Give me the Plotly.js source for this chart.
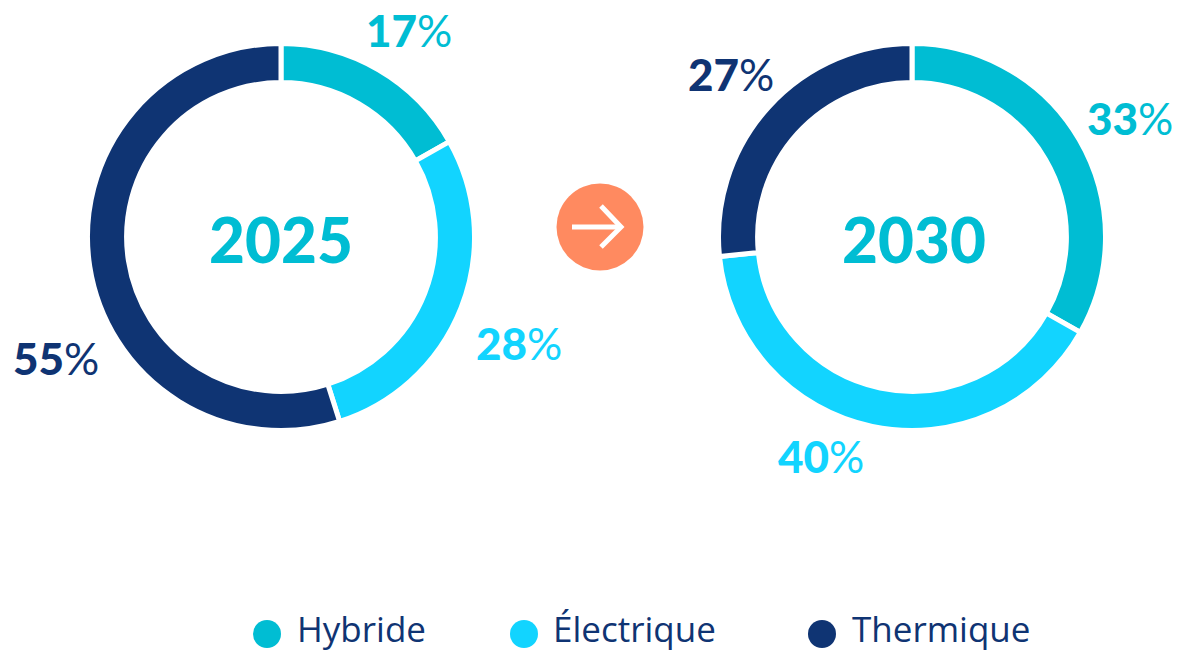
<!DOCTYPE html>
<html><head><meta charset="utf-8">
<script src="https://cdn.plot.ly/plotly-3.0.1.min.js"></script>
<style>html,body{margin:0;padding:0;background:#fff}#c{width:1178px;height:654px}</style></head>
<body><div id="c"></div>
<script>
const categories = ["Hybride", "Électrique", "Thermique"];
const values2025 = [16.8, 28.3, 54.9];
const values2030 = [33.2, 40.2, 26.6];
const colors = ["#00BDD3", "#12D4FF", "#0F3473"];
const W = 1178, H = 654, FONT = "Lato, 'Open Sans', sans-serif", LEGFONT = "'Open Sans', Lato, sans-serif";
const px = x => x / W, py = y => 1 - y / H;
const dom = (cx, cy, r) => ({x: [px(cx - r), px(cx + r)], y: [py(cy + r), py(cy - r)]});
const pie = (vals, cx, name) => ({
  type: "pie", values: vals, labels: categories, name, sort: false, direction: "clockwise", rotation: 0,
  hole: 0.798, textinfo: "none", showlegend: false, domain: dom(cx, 237, 193.5),
  marker: {colors, line: {color: "#ffffff", width: 5}}
});
const ann = (x, y, text, size, color) => ({
  xref: "paper", yref: "paper", x: px(x), y: py(y), text, showarrow: false,
  xanchor: "center", yanchor: "middle", font: {family: FONT, size, color}
});
const heavy = t => `<span style="font-weight:900">${t}</span>`;
const pct = (x, y, v, color) => ann(x, y, `${heavy(Math.round(v))}%`, 44, color);
const legendX = [267, 524, 822], legendTextX = [295, 551, 850];
const circle = (cx, cy, r, color) => ({
  type: "circle", xref: "paper", yref: "paper", x0: px(cx - r), x1: px(cx + r), y0: py(cy + r), y1: py(cy - r),
  fillcolor: color, line: {width: 0}
});
const stroke = (pts) => ({
  type: "path", xref: "paper", yref: "paper",
  path: "M" + pts.map(p => px(p[0]) + "," + py(p[1])).join(" L"),
  line: {color: "#ffffff", width: 5}, layer: "above"
});
const layout = {
  width: W, height: H, margin: {l: 0, r: 0, t: 0, b: 0}, showlegend: false,
  paper_bgcolor: "#ffffff", plot_bgcolor: "#ffffff",
  annotations: [
    ann(281, 239, heavy("2025"), 62, colors[0]),
    ann(914, 239, heavy("2030"), 62, colors[0]),
    pct(409, 30, values2025[0], colors[0]),
    pct(519, 343, values2025[1], colors[1]),
    pct(56, 358, values2025[2], colors[2]),
    pct(1130, 118, values2030[0], colors[0]),
    pct(821, 456, values2030[1], colors[1]),
    pct(731, 74, values2030[2], colors[2]),
    ...categories.map((c, i) => ({
      xref: "paper", yref: "paper", x: px(legendTextX[i]), y: py(628.5), text: c, showarrow: false,
      xanchor: "left", yanchor: "middle", font: {family: LEGFONT, size: 35, color: colors[2]}
    }))
  ],
  shapes: [
    circle(600, 227, 43.5, "#FF8A60"),
    stroke([[572, 227], [621, 227]]),
    stroke([[601, 206], [621, 227], [601, 247]]),
    ...categories.map((c, i) => circle(legendX[i], 634, 14, colors[i]))
  ]
};
Plotly.newPlot("c", [pie(values2025, 281, "2025"), pie(values2030, 912, "2030")], layout, {displayModeBar: false});
</script></body></html>
